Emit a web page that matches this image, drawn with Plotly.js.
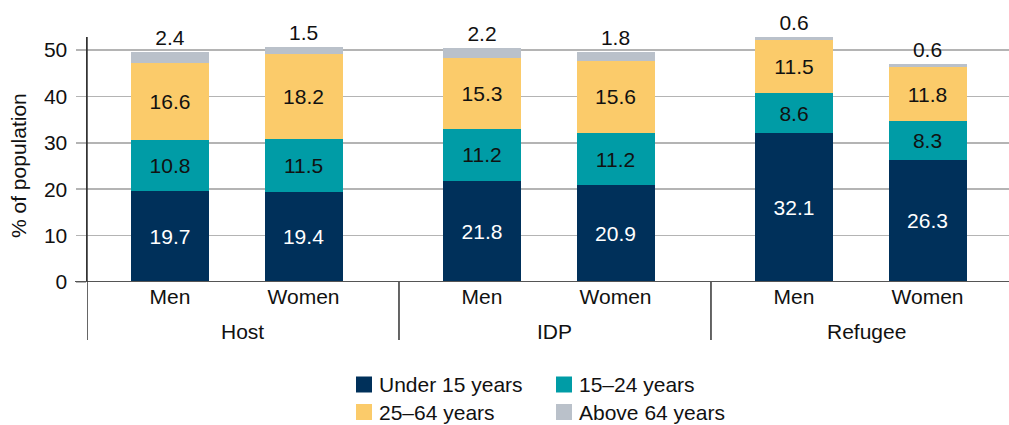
<!DOCTYPE html>
<html>
<head>
<meta charset="utf-8">
<script src="https://cdn.plot.ly/plotly-3.0.1.min.js"></script>
<style>html,body{margin:0;padding:0;background:#fff;}#chart{width:1009px;height:425px;}</style>
</head>
<body>
<div id="chart"></div>
<script>
// ---- data ----
const groups = ['Host', 'IDP', 'Refugee'];
const sexes = ['Men', 'Women'];
const seriesNames = ['Under 15 years', '15–24 years', '25–64 years', 'Above 64 years'];
const under15 = [19.7, 19.4, 21.8, 20.9, 32.1, 26.3];
const age15to24 = [10.8, 11.5, 11.2, 11.2, 8.6, 8.3];
const age25to64 = [16.6, 18.2, 15.3, 15.6, 11.5, 11.8];
const above64 = [2.4, 1.5, 2.2, 1.8, 0.6, 0.6];
const yTicks = [0, 10, 20, 30, 40, 50];

// ---- styling ----
const colors = ['#00305a', '#009ca6', '#fbcb6a', '#bac1ca'];
const textColors = ['#ffffff', '#111111', '#111111', '#111111'];
const FONT = 'Liberation Sans, Arial, Helvetica, sans-serif';
const FS = 21;
const W = 1009, H = 425;
const M = {l: 87, r: 0, t: 37, b: 143};
const plotW = W - M.l - M.r, plotH = H - M.t - M.b;
const px2x = px => (px - M.l) / plotW;
const px2y = py => (H - M.b - py) / plotH;

const unitPx = 133.5;      // pixels per category unit
const groupSpan = 2.337;   // distance between groups in category units
const groupStart = -0.622; // left edge of first group relative to first bar
const xPos = [];
const tickText = [];
groups.forEach((g, gi) => sexes.forEach((s, si) => { xPos.push(gi * groupSpan + si); tickText.push(s); }));

const seriesValues = [under15, age15to24, age25to64, above64];
const traces = seriesValues.map((vals, k) => ({
  type: 'bar',
  name: seriesNames[k],
  x: xPos,
  y: vals,
  width: 0.584,
  marker: {color: colors[k], line: {width: 0}},
  text: vals.map(v => v.toFixed(1)),
  texttemplate: '%{text}',
  textposition: k === 3 ? 'outside' : 'inside',
  insidetextanchor: 'middle',
  constraintext: 'none',
  cliponaxis: false,
  textfont: {family: FONT, size: FS, color: textColors[k]},
  hoverinfo: 'skip',
  showlegend: false
}));

const xMax = groupStart + plotW / unitPx;
const shapes = [];
const annotations = [];
// x axis baseline (extends left over the zero tick)
shapes.push({type: 'line', xref: 'paper', yref: 'y', x0: px2x(75), x1: 1, y0: 0, y1: 0, line: {color: '#555555', width: 2}, layer: 'above'});
// group dividers (including the y-axis extension)
for (let gi = 0; gi < groups.length; gi++) {
  const xd = groupStart + gi * groupSpan;
  shapes.push({type: 'line', xref: 'x', yref: 'paper', x0: xd, x1: xd, y0: px2y(340), y1: gi === 0 ? 1 : 0, line: {color: '#333333', width: 1.5}, layer: 'above'});
  annotations.push({xref: 'x', yref: 'paper', x: xd + groupSpan / 2, y: px2y(331), text: groups[gi], showarrow: false, xanchor: 'center', yanchor: 'middle', font: {family: FONT, size: FS, color: '#111111'}});
}
// y axis title
annotations.push({xref: 'paper', yref: 'paper', x: px2x(18), y: px2y(166), text: '% of population', textangle: -90, showarrow: false, xanchor: 'center', yanchor: 'middle', font: {family: FONT, size: FS, color: '#111111'}});

// custom legend (2 x 2)
const legendCols = [356, 556];
const legendRows = [384.5, 412];
seriesNames.forEach((name, k) => {
  const cx = legendCols[k % 2], cy = legendRows[Math.floor(k / 2)];
  shapes.push({type: 'rect', xref: 'paper', yref: 'paper', x0: px2x(cx), x1: px2x(cx + 16), y0: px2y(cy - 8), y1: px2y(cy + 8), fillcolor: colors[k], line: {width: 0}});
  annotations.push({xref: 'paper', yref: 'paper', x: px2x(cx + 21), y: px2y(cy), text: name, showarrow: false, xanchor: 'left', yanchor: 'middle', font: {family: FONT, size: FS, color: '#111111'}});
});

const layout = {
  width: W, height: H,
  margin: M,
  barmode: 'stack',
  paper_bgcolor: '#ffffff', plot_bgcolor: '#ffffff',
  font: {family: FONT, size: FS, color: '#111111'},
  showlegend: false,
  xaxis: {
    range: [groupStart, xMax],
    tickvals: xPos, ticktext: tickText,
    showgrid: false, zeroline: false, showline: false, ticks: '',
    tickfont: {family: FONT, size: FS, color: '#111111'},
    fixedrange: true
  },
  yaxis: {
    range: [0, plotH / 4.64],
    tickvals: yTicks,
    showgrid: true, gridcolor: '#b4b4b4', gridwidth: 1.5,
    zeroline: false,
    showline: true, linecolor: '#333333', linewidth: 1.5,
    ticks: 'outside', ticklen: 10, tickcolor: '#b4b4b4', tickwidth: 1.5,
    ticklabelstandoff: 4,
    tickfont: {family: FONT, size: FS, color: '#111111'},
    fixedrange: true
  },
  shapes: shapes,
  annotations: annotations
};

Plotly.newPlot('chart', traces, layout, {displayModeBar: false, staticPlot: true});
</script>
</body>
</html>
